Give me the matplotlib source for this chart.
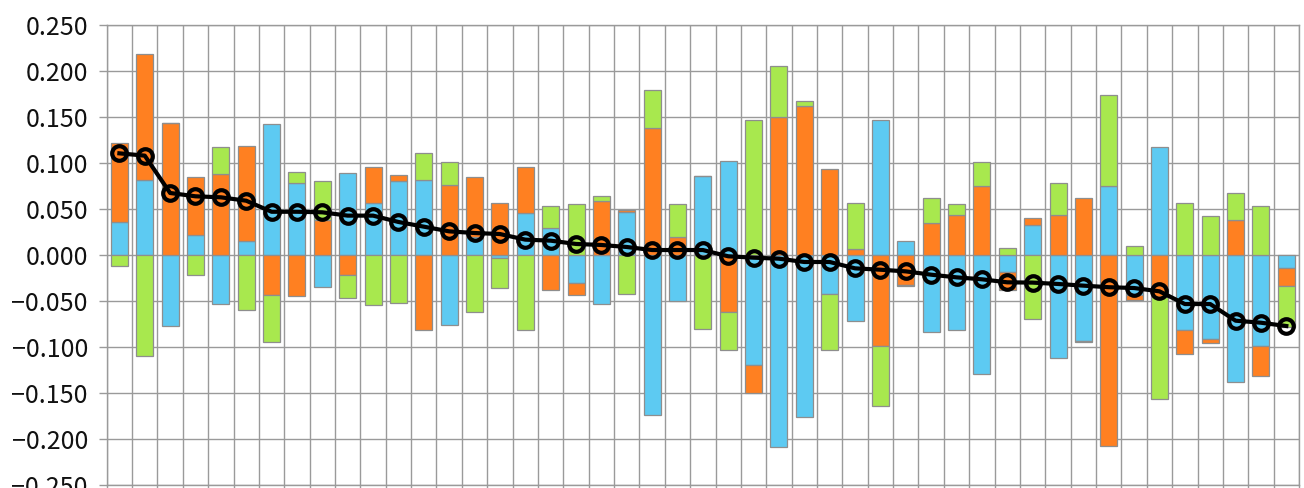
import numpy as np
import matplotlib
matplotlib.use("Agg")
import matplotlib.pyplot as plt
from matplotlib.ticker import FixedLocator, FuncFormatter

# ---- data ----
blue = [0.036, 0.082, -0.077, 0.022, -0.053, 0.015, 0.142, 0.078, -0.035, 0.089,
        0.0565, 0.080, 0.0815, -0.076, 0.020, -0.003, 0.046, 0.029, -0.030, -0.053,
        0.047, -0.174, -0.050, 0.0855, 0.102, -0.120, -0.209, -0.176, -0.042, -0.072,
        0.147, 0.015, -0.084, -0.082, -0.129, -0.018, 0.033, -0.112, -0.094, 0.075,
        -0.0435, 0.117, -0.082, -0.091, -0.138, -0.099, -0.014]
orange = [0.086, 0.136, 0.144, 0.063, 0.088, 0.1035, -0.043, -0.045, 0.038, -0.022,
          0.039, 0.007, -0.082, 0.076, 0.065, 0.056, 0.050, -0.038, -0.013, 0.0587,
          0.002, 0.138, 0.020, 0.0, -0.062, -0.030, 0.150, 0.162, 0.0935, 0.007,
          -0.099, -0.033, 0.035, 0.0435, 0.075, -0.020, 0.007, 0.043, 0.0616, -0.208,
          -0.005, -0.046, -0.026, -0.005, 0.038, -0.032, -0.020]
green = [-0.012, -0.110, 0.0, -0.022, 0.029, -0.060, -0.052, 0.012, 0.042, -0.025,
         -0.054, -0.052, 0.029, 0.025, -0.062, -0.033, -0.0815, 0.024, 0.055, 0.005,
         -0.042, 0.041, 0.035, -0.080, -0.041, 0.147, 0.055, 0.005, -0.061, 0.049,
         -0.065, -0.001, 0.027, 0.012, 0.026, 0.008, -0.070, 0.0355, -0.001, 0.0986,
         0.0094, -0.111, 0.0565, 0.042, 0.029, 0.0536, -0.044]
total_line = [0.1105, 0.108, 0.0674, 0.0638, 0.0627, 0.059, 0.047, 0.047, 0.0464, 0.0428,
              0.0428, 0.0359, 0.0308, 0.0257, 0.0239, 0.0228, 0.0167, 0.0156, 0.012, 0.0109,
              0.0087, 0.0054, 0.0054, 0.0054, -0.0014, -0.0029, -0.004, -0.0076, -0.0076, -0.0145,
              -0.016, -0.0178, -0.0214, -0.0243, -0.0264, -0.0297, -0.030, -0.0315, -0.0333, -0.035,
              -0.0359, -0.0395, -0.0533, -0.0533, -0.0714, -0.0736, -0.0772]
y_ticks = [-0.25, -0.20, -0.15, -0.10, -0.05, 0.0, 0.05, 0.10, 0.15, 0.20, 0.25]

series = [blue, orange, green]
colors = ["#5DCAF2", "#FF8021", "#A8E84E"]

plt.rcParams['font.family'] = ['Noto Sans CJK JP', 'DejaVu Sans']

fig = plt.figure(figsize=(13.04, 4.88), dpi=100)
ax = fig.add_axes([106.7 / 1304, 1 - 485 / 488, (1299 - 106.7) / 1304, (485 - 25) / 488])

n = len(blue)
x = np.arange(n)
pos_base = np.zeros(n)
neg_base = np.zeros(n)
for vals, c in zip(series, colors):
    v = np.array(vals)
    base = np.where(v >= 0, pos_base, neg_base)
    ax.bar(x, v, bottom=base, width=0.67, color=c, edgecolor="#8E8E8E",
           linewidth=0.9, zorder=3)
    pos_base = pos_base + np.where(v > 0, v, 0)
    neg_base = neg_base + np.where(v < 0, v, 0)

ax.plot(x, total_line, color="black", linewidth=3.0, marker="o", markersize=10.5,
        markerfacecolor="none", markeredgecolor="black", markeredgewidth=3.0, zorder=5)

ax.set_xlim(-0.5, n - 0.5)
ax.set_ylim(-0.25, 0.25)

ax.yaxis.set_major_locator(FixedLocator(y_ticks))
ax.yaxis.set_major_formatter(FuncFormatter(lambda v, p: ("\u2212" if v < -1e-9 else "") + f"{abs(v):.3f}"))
ax.xaxis.set_major_locator(FixedLocator(np.arange(-0.5, n, 1.0)))
ax.set_xticklabels([])

grid_c = "#9A9A9A"
ax.grid(True, which="major", color=grid_c, linewidth=1.0, zorder=0)
ax.set_axisbelow(True)
for s in ax.spines.values():
    s.set_color(grid_c)
    s.set_linewidth(1.0)

ax.tick_params(axis="y", direction="out", length=5.5, width=1.0, color=grid_c,
               labelsize=18, labelcolor="#111111", pad=8)
ax.tick_params(axis="x", direction="out", length=4, width=1.0, color=grid_c)

fig.savefig("out.png", dpi=100)
